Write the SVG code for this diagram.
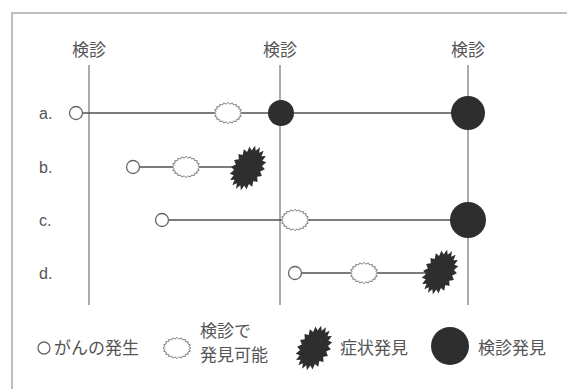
<svg xmlns="http://www.w3.org/2000/svg" xmlns:xlink="http://www.w3.org/1999/xlink" width="567" height="389" viewBox="0 0 567 389">
<style>
.t{font-family:"Noto Sans CJK JP","Noto Sans CJK SC",sans-serif;fill:#555;font-size:17px}
.l{font-family:"Liberation Sans",Arial,sans-serif;fill:#555;font-size:16px}
.v{stroke:#666;stroke-width:1.1;fill:none}
.r{stroke:#505050;stroke-width:1.7;fill:none}
.o{fill:#fff;stroke:#666;stroke-width:1.3}
.b{fill:#fff;stroke:#777;stroke-width:1}
.s{fill:#2e2e2e}
.c{fill:#2e2e2e}
</style>
<defs>
<polygon id="burst" transform="scale(1,0.85)" points="14,0 11.86,1.65 13.31,3.86 10.69,4.81 11.33,7.35 8.48,7.49 8.23,10.11 5.45,9.44 4.33,11.89 1.87,10.47 0,12.5 -1.87,10.47 -4.33,11.89 -5.45,9.44 -8.23,10.11 -8.48,7.49 -11.33,7.35 -10.69,4.81 -13.31,3.86 -11.86,1.65 -14,0 -11.86,-1.65 -13.31,-3.86 -10.69,-4.81 -11.33,-7.35 -8.48,-7.49 -8.23,-10.11 -5.45,-9.44 -4.33,-11.89 -1.87,-10.47 0,-12.5 1.87,-10.47 4.33,-11.89 5.45,-9.44 8.23,-10.11 8.48,-7.49 11.33,-7.35 10.69,-4.81 13.31,-3.86 11.86,-1.65"/>
<polygon id="spiky" transform="rotate(30)" points="16,0 12.35,2.96 15.22,7.42 11.14,8.63 12.94,14.11 8.84,13.43 9.41,19.42 5.68,16.93 4.94,22.82 1.95,18.77 0,24 -1.95,18.77 -4.94,22.82 -5.68,16.93 -9.41,19.42 -8.84,13.43 -12.94,14.11 -11.14,8.63 -15.22,7.42 -12.35,2.96 -16,0 -12.35,-2.96 -15.22,-7.42 -11.14,-8.63 -12.94,-14.11 -8.84,-13.43 -9.41,-19.42 -5.68,-16.93 -4.94,-22.82 -1.95,-18.77 0,-24 1.95,-18.77 4.94,-22.82 5.68,-16.93 9.41,-19.42 8.84,-13.43 12.94,-14.11 11.14,-8.63 15.22,-7.42 12.35,-2.96"/>
</defs>
<rect width="567" height="389" fill="#fff"/>
<rect id="frame" x="12" y="13" width="600" height="420" fill="none" stroke="#aaa" stroke-width="1.5"/>
<g id="checkup-labels">
<text class="t" x="89" y="56" text-anchor="middle" font-size="18">検診</text>
<text class="t" x="280" y="56" text-anchor="middle" font-size="18">検診</text>
<text class="t" x="468" y="56" text-anchor="middle" font-size="18">検診</text>
</g>
<g id="row-labels">
<text class="l" x="39" y="119">a.</text>
<text class="l" x="39" y="173">b.</text>
<text class="l" x="39" y="226">c.</text>
<text class="l" x="39" y="279">d.</text>
</g>
<g id="connectors">
<line class="v" x1="89" y1="65" x2="89" y2="305"/>
<line class="v" x1="280" y1="65" x2="280" y2="305"/>
<line class="v" x1="468" y1="65" x2="468" y2="305"/>
<line class="r" x1="76" y1="113" x2="468" y2="113"/>
<line class="r" x1="133" y1="167" x2="248" y2="167"/>
<line class="r" x1="162" y1="220" x2="468" y2="220"/>
<line class="r" x1="295" y1="273" x2="440" y2="273"/>
</g>
<g id="row-a">
<circle class="o" cx="76" cy="113" r="6.5"/>
<use xlink:href="#burst" class="b" x="228" y="113"/>
<circle class="c" cx="281" cy="113" r="13"/>
<circle class="c" cx="468" cy="113" r="17"/>
</g>
<g id="row-b">
<circle class="o" cx="133" cy="167" r="6.5"/>
<use xlink:href="#burst" class="b" x="186" y="167"/>
<use xlink:href="#spiky" class="s" x="248" y="168"/>
</g>
<g id="row-c">
<circle class="o" cx="162" cy="220" r="6.5"/>
<use xlink:href="#burst" class="b" x="295" y="220"/>
<circle class="c" cx="468" cy="220" r="18"/>
</g>
<g id="row-d">
<circle class="o" cx="295" cy="273" r="6.5"/>
<use xlink:href="#burst" class="b" x="364" y="273"/>
<use xlink:href="#spiky" class="s" x="440" y="272"/>
</g>
<g id="legend">
<circle class="o" cx="44" cy="348" r="6"/>
<text class="t" x="54" y="354">がんの発生</text>
<use xlink:href="#burst" class="b" x="177" y="348"/>
<text class="t" x="200" y="337" font-size="15">検診で</text>
<text class="t" x="200" y="361" font-size="15">発見可能</text>
<use xlink:href="#spiky" class="s" x="314" y="348"/>
<text class="t" x="340" y="354">症状発見</text>
<circle class="c" cx="450" cy="346" r="19"/>
<text class="t" x="478" y="354">検診発見</text>
</g>
</svg>
